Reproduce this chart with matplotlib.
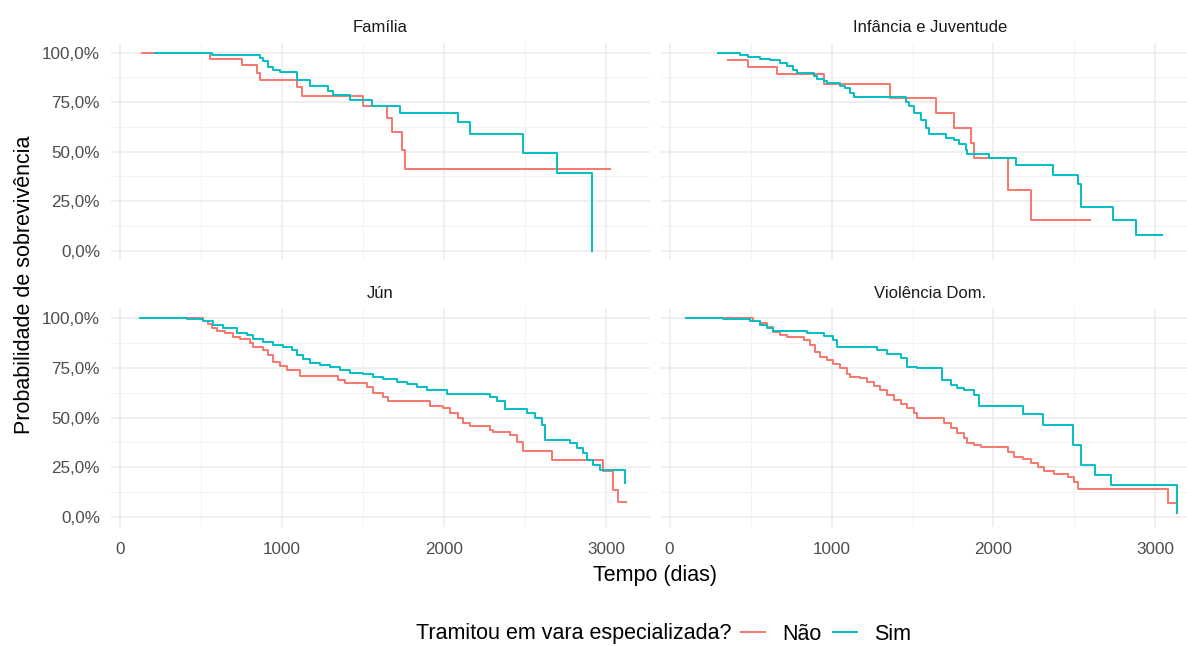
import matplotlib.pyplot as plt
from matplotlib.lines import Line2D

# tempo (dias) em que cada degrau começa e sobrevivência estimada a partir dele
familia_nao_t = [134, 556, 751, 844, 864, 1091, 1121, 1502, 1646, 1677, 1739, 1759, 3025]
familia_nao_s = [1.0, 0.968, 0.939, 0.897, 0.863, 0.829, 0.782, 0.728, 0.668, 0.600, 0.508, 0.410, 0.410]
familia_sim_t = [216, 566, 864, 885, 916, 946, 988, 1091, 1173, 1286, 1317, 1420, 1553, 1728, 2088,
                 2160, 2490, 2695, 2911]
familia_sim_s = [1.0, 0.986, 0.973, 0.956, 0.930, 0.914, 0.902, 0.863, 0.832, 0.804, 0.787, 0.761, 0.728,
                 0.694, 0.652, 0.589, 0.491, 0.393, 0.0]

infancia_nao_t = [362, 486, 661, 951, 1364, 1643, 1757, 1860, 1881, 2087, 2232, 2593]
infancia_nao_s = [0.964, 0.930, 0.892, 0.841, 0.773, 0.697, 0.618, 0.542, 0.470, 0.305, 0.152, 0.152]
infancia_sim_t = [300, 434, 486, 558, 620, 682, 723, 765, 785, 889, 909, 951, 971, 1054, 1085, 1116,
                  1137, 1457, 1478, 1509, 1550, 1581, 1602, 1705, 1757, 1788, 1829, 1839, 1974, 2139,
                  2366, 2521, 2542, 2738, 2883, 3038]
infancia_sim_s = [1.0, 0.99, 0.978, 0.97, 0.961, 0.948, 0.934, 0.914, 0.897, 0.88, 0.867, 0.855, 0.846,
                  0.832, 0.821, 0.795, 0.775, 0.753, 0.728, 0.694, 0.66, 0.618, 0.589, 0.57, 0.558,
                  0.54, 0.508, 0.487, 0.47, 0.431, 0.384, 0.338, 0.22, 0.152, 0.076, 0.076]

jun_nao_t = [123, 514, 545, 566, 597, 648, 700, 741, 802, 823, 885, 916, 946, 988, 1029, 1111, 1348,
             1389, 1523, 1564, 1626, 1656, 1914, 1996, 2037, 2088, 2119, 2160, 2284, 2305, 2407, 2449,
             2490, 2665, 2984, 3045, 3076, 3123]
jun_nao_s = [1.0, 0.988, 0.971, 0.95, 0.938, 0.924, 0.907, 0.894, 0.874, 0.857, 0.84, 0.815, 0.782,
             0.76, 0.74, 0.71, 0.69, 0.676, 0.653, 0.626, 0.605, 0.585, 0.559, 0.547, 0.522, 0.497,
             0.475, 0.458, 0.438, 0.429, 0.413, 0.379, 0.334, 0.287, 0.23, 0.136, 0.077, 0.077]
jun_sim_t = [123, 412, 514, 576, 638, 720, 782, 823, 885, 946, 1008, 1060, 1091, 1132, 1173, 1235,
             1296, 1358, 1420, 1502, 1564, 1626, 1708, 1770, 1831, 1893, 2017, 2284, 2325, 2377, 2510,
             2562, 2603, 2623, 2778, 2819, 2860, 2881, 2922, 2963, 3117]
jun_sim_s = [1.0, 0.995, 0.985, 0.968, 0.95, 0.924, 0.916, 0.894, 0.883, 0.866, 0.857, 0.84, 0.815,
             0.794, 0.773, 0.765, 0.756, 0.74, 0.726, 0.72, 0.706, 0.693, 0.681, 0.67, 0.656, 0.639,
             0.62, 0.605, 0.585, 0.545, 0.521, 0.497, 0.463, 0.39, 0.371, 0.346, 0.321, 0.287, 0.262,
             0.237, 0.17]

violencia_nao_t = [103, 517, 558, 599, 641, 682, 723, 827, 868, 899, 930, 971, 1012, 1054, 1095, 1116,
                   1178, 1219, 1261, 1302, 1343, 1385, 1426, 1467, 1509, 1529, 1694, 1736, 1777, 1818,
                   1839, 1880, 1922, 2087, 2128, 2180, 2232, 2273, 2314, 2376, 2459, 2500, 2521, 3079,
                   3131]
violencia_nao_s = [1.0, 0.988, 0.975, 0.958, 0.933, 0.916, 0.908, 0.891, 0.866, 0.832, 0.807, 0.79,
                   0.77, 0.748, 0.72, 0.703, 0.698, 0.681, 0.66, 0.639, 0.614, 0.589, 0.569, 0.547,
                   0.522, 0.497, 0.471, 0.446, 0.421, 0.396, 0.374, 0.363, 0.354, 0.329, 0.304, 0.29,
                   0.27, 0.253, 0.233, 0.216, 0.203, 0.178, 0.139, 0.072, 0.072]
violencia_sim_t = [103, 331, 496, 558, 599, 641, 847, 951, 1012, 1033, 1281, 1343, 1426, 1467, 1529,
                   1684, 1736, 1777, 1818, 1880, 1911, 2180, 2304, 2490, 2542, 2624, 2728, 3131]
violencia_sim_s = [1.0, 0.995, 0.988, 0.968, 0.95, 0.938, 0.924, 0.911, 0.891, 0.857, 0.84, 0.82,
                   0.799, 0.756, 0.748, 0.689, 0.664, 0.648, 0.639, 0.614, 0.559, 0.519, 0.463, 0.363,
                   0.262, 0.211, 0.161, 0.02]

paineis = ['Família', 'Infância e Juventude', 'Jún', 'Violência Dom.']
grupos = ['Não', 'Sim']
cores = ['#F8766D', '#00BFC4']
x_ticks = [0, 1000, 2000, 3000]
y_ticks = [0, 0.25, 0.5, 0.75, 1.0]
y_tick_labels = ['0,0%', '25,0%', '50,0%', '75,0%', '100,0%']

curvas = {
    'Família': [(familia_nao_t, familia_nao_s), (familia_sim_t, familia_sim_s)],
    'Infância e Juventude': [(infancia_nao_t, infancia_nao_s), (infancia_sim_t, infancia_sim_s)],
    'Jún': [(jun_nao_t, jun_nao_s), (jun_sim_t, jun_sim_s)],
    'Violência Dom.': [(violencia_nao_t, violencia_nao_s), (violencia_sim_t, violencia_sim_s)],
}

plt.rcParams['font.family'] = ['Liberation Sans', 'DejaVu Sans']

W, H = 1187, 646
fig = plt.figure(figsize=(W / 100, H / 100), dpi=100)

# caixas dos paineis em pixels: (esquerda, topo, direita, base)
caixas = [(111, 42.8, 650, 260.4), (660.5, 42.8, 1199.5, 260.4),
          (111, 308.4, 650, 526.9), (660.5, 308.4, 1199.5, 526.9)]

for i, nome in enumerate(paineis):
    x0, y0, x1, y1 = caixas[i]
    ax = fig.add_axes([x0 / W, 1 - y1 / H, (x1 - x0) / W, (y1 - y0) / H])
    for (t, s), cor in zip(curvas[nome], cores):
        ax.step(t, s, where='post', color=cor, lw=1.4)

    ax.set_xlim(-56, 3272)
    ax.set_ylim(-0.05, 1.05)
    ax.set_xticks(x_ticks)
    ax.set_xticks([500, 1500, 2500], minor=True)
    ax.set_yticks(y_ticks)
    ax.set_yticks([0.125, 0.375, 0.625, 0.875], minor=True)
    ax.grid(which='major', color='#EBEBEB', lw=1.1)
    ax.grid(which='minor', color='#F2F2F2', lw=0.7)
    ax.set_axisbelow(True)
    for sp in ax.spines.values():
        sp.set_visible(False)
    ax.tick_params(which='both', length=0, labelsize=12.3, labelcolor='#4D4D4D')
    ax.tick_params(axis='x', pad=11)
    ax.tick_params(axis='y', pad=8)

    if i % 2 == 0:
        ax.set_yticklabels(y_tick_labels)
    else:
        ax.set_yticklabels([])
    if i < 2:
        ax.set_xticklabels([])

    fig.text((x0 + x1) / 2 / W, 1 - (y0 - 15) / H, nome, ha='center', va='center',
             fontsize=12, color='#1A1A1A')

fig.text(655 / W, 1 - 576 / H, 'Tempo (dias)', ha='center', va='center', fontsize=15.5)
fig.text(25 / W, 1 - 285 / H, 'Probabilidade de sobrevivência', ha='center', va='center',
         rotation=90, fontsize=15.5)

# legenda horizontal com o titulo a esquerda
fig.text(731 / W, 1 - 634 / H, 'Tramitou em vara especializada?', ha='right', va='center',
         fontsize=15.5)
handles = [Line2D([], [], color=c, lw=1.4) for c in cores]
fig.legend(handles, grupos, loc='center left', bbox_to_anchor=(741 / W, 1 - 634 / H), ncol=2,
           frameon=False, fontsize=15.5, handlelength=1.1, handletextpad=0.8, columnspacing=0.55,
           borderpad=0, borderaxespad=0)

fig.savefig('out.png', dpi=100)
